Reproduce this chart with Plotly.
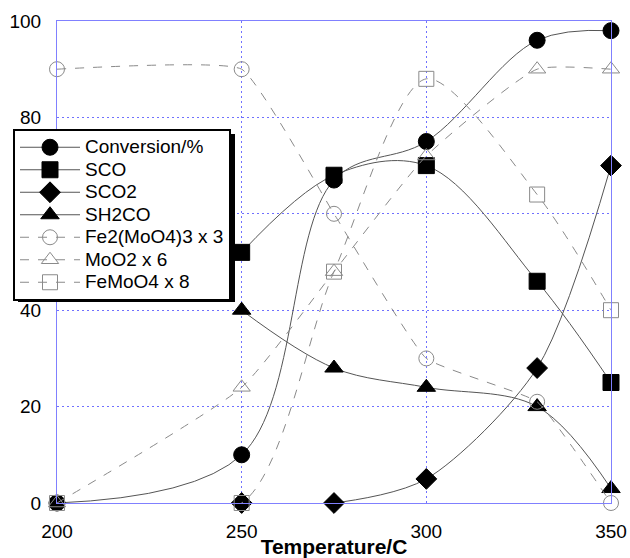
import plotly.graph_objects as go

# Reaction temperature (C)
temperature = [200, 250, 275, 300, 330, 350]

# Catalytic performance (%); None where no measurement is plotted
conversion = [0, 10, 67, 75, 96, 98]
s_co = [None, 52, 68, 70, 46, 25]
s_co2 = [None, 0, 0, 5, 28, 70]
s_h2co = [None, 40, 28, 24, 20, 3]

# Phase contents (scaled)
fe2moo43_x3 = [90, 90, 60, 30, 21, 0]
moo2_x6 = [0, 24, 48, 72, 90, 90]
femoo4_x8 = [0, 0, 48, 88, 64, 40]

x_ticks = [200, 250, 300, 350]
y_ticks = [0, 20, 40, 60, 80, 100]

LINE = "#555555"
OPEN = "#8a8a8a"
FONT = "Liberation Sans, Arial, sans-serif"

series = [
    ("Conversion/%", conversion, "circle", "solid", 1.0),
    ("SCO", s_co, "square", "solid", 1.0),
    ("SCO2", s_co2, "diamond", "solid", 0.8),
    ("SH2CO", s_h2co, "triangle-up", "solid", 1.0),
    ("Fe2(MoO4)3 x 3", fe2moo43_x3, "circle-open", "dash", 0.35),
    ("MoO2 x 6", moo2_x6, "triangle-up-open", "dash", 0.5),
    ("FeMoO4 x 8", femoo4_x8, "square-open", "dash", 0.8),
]

fig = go.Figure()
for name, vals, sym, dash, smooth in series:
    filled = dash == "solid"
    fig.add_trace(go.Scatter(
        x=temperature, y=vals,
        name=f'<span style="font-size:19px">{name}</span>',
        mode="lines+markers",
        line=dict(color=LINE if filled else OPEN, width=1, dash=dash,
                  shape="spline", smoothing=smooth),
        marker=dict(symbol=sym, size=16 if filled else 15,
                    color="black" if filled else OPEN,
                    line=dict(color="black" if filled else OPEN, width=1)),
        cliponaxis=False,
    ))

L, R, T, B = 57, 19, 21, 55
W, H = 630, 558
pw, ph = W - L - R, H - T - B


def px(x):
    return (x - L) / pw


def py(y):
    return (H - B - y) / ph


# drop shadow behind the legend box
fig.add_shape(type="rect", xref="paper", yref="paper",
              x0=px(18), x1=px(235), y0=py(302), y1=py(134),
              fillcolor="black", line=dict(width=0), layer="above")

axis_common = dict(
    showline=True, linecolor="#8080ff", linewidth=1, mirror=True,
    showgrid=True, gridcolor="#7070ff", griddash="2px,3px", gridwidth=1,
    zeroline=False, ticks="", automargin=False,
    tickfont=dict(family=FONT, size=19, color="black"),
)

fig.update_layout(
    width=W, height=H,
    margin=dict(l=L, r=R, t=T, b=B),
    paper_bgcolor="white", plot_bgcolor="white",
    xaxis=dict(range=[200, 350], tickvals=x_ticks, ticklabelstandoff=11,
               title=dict(text="<b>Temperature/C</b>", standoff=0,
                          font=dict(family=FONT, size=21, color="black")),
               **axis_common),
    yaxis=dict(range=[0, 100], tickvals=y_ticks, ticklabelstandoff=11,
               **axis_common),
    legend=dict(x=px(13), y=py(129), xanchor="left", yanchor="top",
                bgcolor="white", bordercolor="black", borderwidth=2,
                font=dict(family=FONT, size=15, color="black"),
                tracegroupgap=0, itemwidth=60),
    showlegend=True,
)

fig.write_html("out.html")
